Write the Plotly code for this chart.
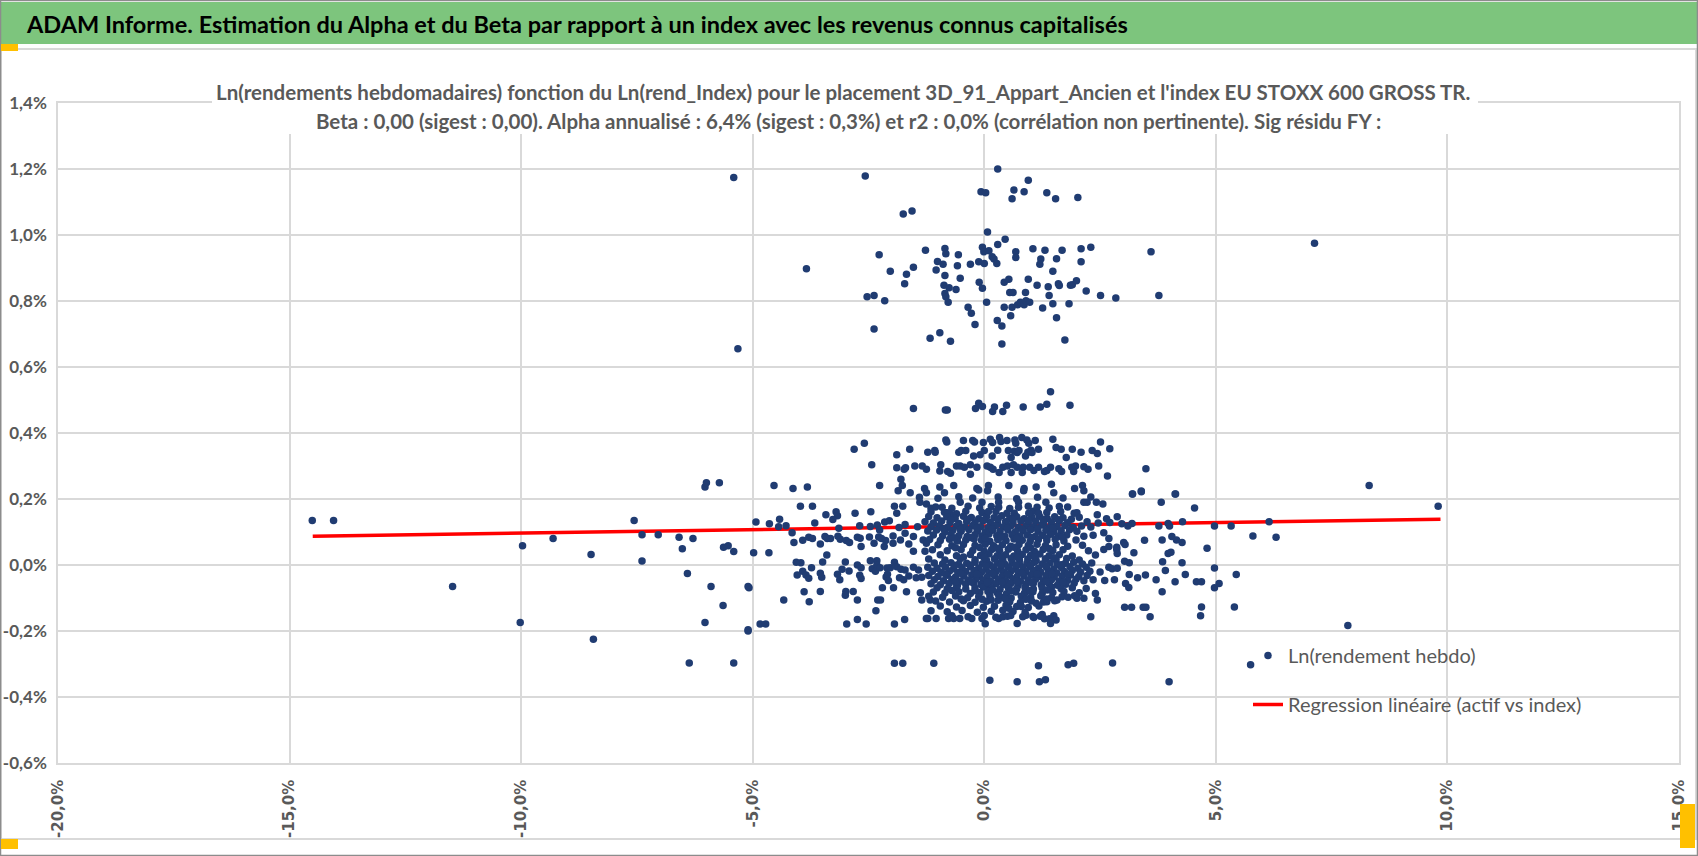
import plotly.graph_objects as go

# ---- figure geometry (pixels) ----
W, H = 1698, 856
ML, MR, MT, MB = 58, 19, 103, 93

# ---- data: Ln(rendement hebdo) of the asset vs Ln(rend_Index), both in % ----
# points above 0.6 %
upper_band = [
    (-2.57, 1.179), (0.29, 1.200), (0.95, 1.166), (-0.07, 1.131), (0.03, 1.128), (0.64, 1.136),
    (0.86, 1.131), (0.60, 1.110), (1.35, 1.128), (1.54, 1.110), (2.02, 1.114), (-1.75, 1.064),
    (-1.56, 1.073), (0.07, 1.009), (0.45, 0.987), (0.29, 0.971), (-1.27, 0.954), (-0.85, 0.959),
    (-0.83, 0.943), (-0.56, 0.940), (-0.04, 0.963), (-0.01, 0.949), (0.10, 0.952), (0.17, 0.934),
    (0.21, 0.927), (0.27, 0.914), (0.00, 0.914), (-0.12, 0.919), (-0.30, 0.911), (-0.58, 0.907),
    (-0.89, 0.911), (-1.01, 0.920), (-1.04, 0.894), (-0.85, 0.877), (-0.52, 0.869), (0.68, 0.949),
    (0.68, 0.932), (1.05, 0.958), (1.31, 0.954), (1.68, 0.954), (2.09, 0.958), (2.30, 0.963),
    (3.60, 0.949), (1.22, 0.927), (1.20, 0.911), (1.56, 0.928), (2.09, 0.919), (1.48, 0.890),
    (-2.27, 0.940), (-3.84, 0.898), (-2.03, 0.890), (-1.53, 0.902), (-1.68, 0.881), (-1.72, 0.852),
    (-2.53, 0.813), (-2.38, 0.817), (-2.15, 0.801), (-2.38, 0.715), (-0.87, 0.848), (-0.76, 0.840),
    (-0.61, 0.835), (-0.85, 0.823), (-0.83, 0.813), (-0.78, 0.796), (-0.11, 0.857), (-0.04, 0.839),
    (0.05, 0.796), (-0.35, 0.781), (-0.28, 0.763), (-0.20, 0.729), (-1.17, 0.687), (-0.96, 0.704),
    (-0.73, 0.678), (0.28, 0.741), (0.38, 0.724), (0.38, 0.670), (0.57, 0.755), (0.43, 0.781),
    (0.60, 0.781), (0.43, 0.857), (0.53, 0.866), (0.55, 0.826), (0.62, 0.826), (0.72, 0.789),
    (0.78, 0.796), (0.86, 0.789), (0.90, 0.801), (0.98, 0.796), (0.89, 0.826), (0.95, 0.866),
    (1.14, 0.848), (1.38, 0.843), (1.40, 0.817), (1.60, 0.852), (1.62, 0.847), (1.86, 0.848),
    (1.90, 0.849), (1.99, 0.861), (2.20, 0.830), (2.51, 0.817), (2.84, 0.809), (3.77, 0.817),
    (1.26, 0.779), (1.48, 0.792), (1.83, 0.792), (1.56, 0.749), (1.74, 0.682),
    (-5.41, 1.174), (-5.32, 0.655), (7.13, 0.975),
]

# points between 0.2 % and 0.55 %
mid_band = [
    (1.43, 0.525), (-1.53, 0.474), (-0.84, 0.470), (-0.80, 0.470), (-0.19, 0.474), (-0.12, 0.490),
    (-0.04, 0.480), (0.18, 0.465), (0.22, 0.479), (0.40, 0.465), (0.48, 0.484), (0.84, 0.479),
    (1.21, 0.479), (1.35, 0.487), (1.85, 0.484),
    (-2.59, 0.369), (-2.81, 0.351), (-1.89, 0.334), (-1.61, 0.351), (-1.22, 0.342), (-1.07, 0.347),
    (-1.06, 0.342), (-0.83, 0.379), (-0.81, 0.373), (-0.45, 0.377), (-0.25, 0.377), (-0.21, 0.373),
    (-0.02, 0.371), (0.13, 0.381), (0.18, 0.371), (0.33, 0.386), (0.36, 0.374), (0.49, 0.377),
    (0.66, 0.379), (0.68, 0.369), (0.81, 0.386), (0.92, 0.379), (0.96, 0.369), (1.10, 0.377),
    (1.48, 0.381), (2.51, 0.373), (-0.55, 0.342), (-0.50, 0.347), (-0.40, 0.347), (-0.23, 0.330),
    (-0.09, 0.334), (0.00, 0.347), (0.17, 0.330), (0.29, 0.348), (0.52, 0.347), (0.58, 0.326),
    (0.65, 0.345), (0.71, 0.341), (0.75, 0.347), (0.89, 0.330), (0.94, 0.342), (1.01, 0.348),
    (1.03, 0.341), (1.17, 0.351), (1.55, 0.356), (1.66, 0.351), (1.90, 0.351), (1.77, 0.326),
    (2.09, 0.342), (2.33, 0.347), (2.44, 0.338), (2.71, 0.352),
    (-2.43, 0.304), (-1.89, 0.295), (-1.73, 0.290), (-1.70, 0.295), (-1.50, 0.300), (-1.34, 0.300),
    (-1.25, 0.290), (-0.94, 0.304), (-0.96, 0.285), (-0.79, 0.283), (-0.73, 0.278), (-0.60, 0.300),
    (-0.52, 0.300), (-0.43, 0.296), (-0.30, 0.304), (-0.30, 0.275), (-0.16, 0.296), (0.06, 0.300),
    (0.13, 0.296), (0.19, 0.290), (0.32, 0.280), (0.40, 0.296), (0.50, 0.300), (0.58, 0.280),
    (0.63, 0.304), (0.71, 0.296), (0.82, 0.280), (0.84, 0.296), (0.98, 0.296), (1.07, 0.286),
    (1.17, 0.296), (1.30, 0.283), (1.35, 0.286), (1.43, 0.296), (1.61, 0.292), (1.67, 0.283),
    (1.89, 0.296), (1.97, 0.300), (1.93, 0.283), (2.15, 0.298), (2.24, 0.290), (2.47, 0.300),
    (2.66, 0.270), (3.49, 0.292),
    (-4.54, 0.241), (-4.13, 0.232), (-3.82, 0.236), (-2.26, 0.241), (-1.80, 0.260), (-1.77, 0.241),
    (-1.86, 0.225), (-1.60, 0.219), (-1.29, 0.232), (-1.25, 0.219), (-0.96, 0.236), (-0.86, 0.219),
    (-0.66, 0.241), (-0.16, 0.232), (-0.12, 0.227), (0.09, 0.241), (0.07, 0.225), (0.53, 0.241),
    (0.86, 0.232), (0.85, 0.225), (1.12, 0.236), (1.45, 0.245), (1.50, 0.219), (1.95, 0.232),
    (2.12, 0.241), (2.15, 0.225), (3.20, 0.215), (3.39, 0.224), (4.13, 0.215),
    (-1.40, 0.205), (-1.00, 0.202), (-0.55, 0.207), (-0.25, 0.203), (0.30, 0.206), (0.70, 0.201),
    (1.15, 0.205), (1.70, 0.203), (2.30, 0.206),
]

# left part of the main cloud (-5 % .. -1.2 %)
left_cloud = [
    (-3.97, 0.178), (-3.71, 0.178), (-3.42, 0.152), (-3.20, 0.161), (-3.17, 0.149), (-3.27, 0.138),
    (-2.79, 0.157), (-2.45, 0.161), (-1.94, 0.178), (-1.76, 0.178), (-1.89, 0.157), (-1.39, 0.190),
    (-1.25, 0.185), (-1.15, 0.172), (-0.91, 0.175), (-0.86, 0.160), (-0.52, 0.190), (-0.71, 0.152),
    (-0.60, 0.155), (-0.05, 0.190),
    (-4.93, 0.130), (-4.64, 0.125), (-4.42, 0.139), (-4.44, 0.116), (-4.28, 0.119), (-4.15, 0.098),
    (-4.11, 0.068), (-3.92, 0.075), (-3.79, 0.084), (-3.71, 0.080), (-3.66, 0.127), (-3.54, 0.064),
    (-3.44, 0.086), (-3.39, 0.080), (-3.32, 0.080), (-3.14, 0.111), (-3.16, 0.087), (-3.11, 0.078),
    (-2.98, 0.074), (-2.91, 0.068), (-2.69, 0.119), (-2.74, 0.084), (-2.68, 0.081), (-2.66, 0.056),
    (-2.46, 0.117), (-2.48, 0.085), (-2.38, 0.066), (-2.31, 0.121), (-2.28, 0.085), (-2.26, 0.106),
    (-2.22, 0.080), (-2.16, 0.056), (-2.15, 0.130), (-2.05, 0.134), (-2.13, 0.074), (-1.97, 0.066),
    (-1.97, 0.088), (-1.84, 0.114), (-1.71, 0.123), (-1.81, 0.076), (-1.71, 0.096), (-1.63, 0.064),
    (-1.53, 0.042), (-1.53, 0.086), (-1.44, 0.116), (-1.32, 0.076), (-1.25, 0.066), (-1.28, 0.042),
    (-4.98, 0.037), (-4.65, 0.037), (-5.08, -0.069), (-4.33, -0.106), (-4.84, -0.179), (-4.72, -0.179),
    (-5.10, -0.200), (-3.96, 0.007), (-4.06, 0.008), (-3.92, -0.019), (-4.04, -0.030), (-3.85, -0.030),
    (-3.79, -0.040), (-3.73, -0.008), (-3.49, 0.009), (-3.40, 0.030), (-3.54, -0.025), (-3.51, -0.037),
    (-3.89, -0.081), (-3.54, -0.080), (-3.78, -0.111), (-3.17, -0.028), (-3.12, -0.045), (-3.07, -0.013),
    (-3.00, 0.009), (-2.92, -0.018), (-2.99, -0.080), (-3.00, -0.092), (-2.83, -0.080), (-2.74, -0.106),
    (-2.74, 0.000), (-2.66, -0.008), (-2.69, -0.031), (-2.66, -0.041), (-2.46, 0.013), (-2.42, -0.011),
    (-2.32, 0.013), (-2.32, -0.001), (-2.35, -0.019), (-2.25, -0.008), (-2.10, -0.009), (-2.03, -0.008),
    (-2.12, -0.036), (-2.07, -0.047), (-2.09, -0.028), (-2.20, -0.069), (-1.96, -0.069), (-2.30, -0.106),
    (-2.24, -0.106), (-2.34, -0.139), (-2.74, -0.165), (-2.97, -0.179), (-2.55, -0.179), (-1.94, -0.179),
    (-1.72, -0.165), (-1.94, -0.298), (-1.76, -0.298), (-1.09, -0.298), (0.12, -0.349),
    (-1.94, 0.008), (-1.89, -0.005), (-1.80, -0.013), (-1.83, -0.039), (-1.71, -0.015), (-1.74, -0.045),
    (-1.63, -0.033), (-1.68, -0.081), (-1.53, -0.007), (-1.42, -0.015), (-1.47, -0.039), (-1.35, -0.037),
    (-1.38, -0.084), (-1.35, -0.106), (-1.17, -0.106), (-1.25, -0.162), (-1.22, -0.162), (-1.04, -0.162),
    (-0.77, -0.162), (-0.66, -0.162), (-0.53, -0.162), (-0.27, -0.162), (-0.05, -0.162), (0.02, -0.178),
]

# dense core of the cloud (-1.3 % .. 2.6 %)
core_cloud = [
    (-1.05, 0.176), (-0.70, 0.172), (-0.35, 0.178), (-0.10, 0.173), (0.15, 0.177), (0.55, 0.171),
    (0.95, 0.178), (1.40, 0.173), (1.80, 0.176),
    (-1.15, 0.161), (-0.80, 0.158), (-0.40, 0.163), (-0.05, 0.159), (0.25, 0.162), (0.65, 0.157),
    (1.05, 0.163), (1.35, 0.159), (1.65, 0.162), (2.00, 0.158),
    (-1.20, 0.147), (-1.02, 0.143), (-0.81, 0.146), (-0.63, 0.141), (-0.45, 0.148), (-0.28, 0.144),
    (-0.12, 0.140), (0.05, 0.147), (0.21, 0.143), (0.38, 0.149), (0.55, 0.142), (0.70, 0.146),
    (0.86, 0.140), (1.03, 0.145), (1.19, 0.148), (1.36, 0.141), (1.52, 0.146), (1.70, 0.143),
    (1.88, 0.139), (2.05, 0.145),
    (-1.28, 0.131), (-1.10, 0.127), (-0.92, 0.133), (-0.74, 0.129), (-0.55, 0.126), (-0.38, 0.132),
    (-0.20, 0.128), (-0.03, 0.134), (0.13, 0.129), (0.29, 0.125), (0.46, 0.131), (0.62, 0.127),
    (0.79, 0.133), (0.95, 0.128), (1.11, 0.132), (1.28, 0.126), (1.45, 0.130), (1.62, 0.134),
    (1.80, 0.128), (2.22, 0.131), (2.46, 0.127),
    (-1.15, 0.116), (-0.97, 0.119), (-0.80, 0.114), (-0.60, 0.118), (-0.42, 0.115), (-0.25, 0.120),
    (-0.08, 0.116), (0.08, 0.113), (0.24, 0.119), (0.41, 0.115), (0.58, 0.120), (0.74, 0.114),
    (0.90, 0.118), (1.07, 0.116), (1.24, 0.121), (1.40, 0.113), (1.57, 0.117), (1.74, 0.120),
    (1.92, 0.114), (2.10, 0.118), (2.30, 0.115),
    (-1.22, 0.103), (-1.03, 0.106), (-0.85, 0.101), (-0.68, 0.105), (-0.50, 0.102), (-0.33, 0.107),
    (-0.15, 0.103), (0.02, 0.100), (0.18, 0.105), (0.34, 0.102), (0.51, 0.106), (0.67, 0.101),
    (0.84, 0.104), (1.00, 0.107), (1.16, 0.102), (1.33, 0.105), (1.50, 0.100), (1.66, 0.104),
    (1.84, 0.107), (2.00, 0.102),
    (-1.10, 0.091), (-0.90, 0.088), (-0.72, 0.093), (-0.55, 0.089), (-0.37, 0.086), (-0.20, 0.092),
    (-0.05, 0.088), (0.10, 0.094), (0.27, 0.089), (0.44, 0.087), (0.60, 0.092), (0.77, 0.088),
    (0.93, 0.091), (1.10, 0.086), (1.26, 0.090), (1.43, 0.093), (1.60, 0.088), (1.78, 0.091),
    (2.15, 0.087), (2.35, 0.090),
    (-1.18, 0.077), (-0.95, 0.074), (-0.75, 0.078), (-0.58, 0.073), (-0.40, 0.076), (-0.22, 0.079),
    (-0.06, 0.075), (0.12, 0.072), (0.29, 0.077), (0.47, 0.074), (0.64, 0.079), (0.82, 0.075),
    (0.99, 0.072), (1.17, 0.077), (1.35, 0.074), (1.53, 0.078), (1.72, 0.073), (1.98, 0.076),
    (-1.00, 0.061), (-0.70, 0.058), (-0.45, 0.062), (-0.20, 0.059), (0.02, 0.063), (0.20, 0.058),
    (0.39, 0.061), (0.57, 0.057), (0.75, 0.062), (0.95, 0.059), (1.14, 0.063), (1.32, 0.058),
    (1.55, 0.061), (1.80, 0.057), (2.12, 0.060),
    (-1.12, 0.046), (-0.80, 0.043), (-0.50, 0.047), (-0.25, 0.044), (0.00, 0.042), (0.16, 0.047),
    (0.33, 0.044), (0.52, 0.048), (0.72, 0.043), (0.90, 0.046), (1.08, 0.042), (1.27, 0.047),
    (1.48, 0.044), (1.70, 0.046), (2.25, 0.043),
    (-0.95, 0.031), (-0.60, 0.028), (-0.30, 0.032), (-0.08, 0.029), (0.10, 0.033), (0.28, 0.028),
    (0.46, 0.031), (0.64, 0.027), (0.82, 0.032), (1.00, 0.029), (1.20, 0.033), (1.40, 0.028),
    (1.62, 0.031), (1.90, 0.027), (2.40, 0.030),
    (-1.20, 0.018), (-0.85, 0.015), (-0.52, 0.019), (-0.20, 0.016), (0.05, 0.014), (0.22, 0.019),
    (0.40, 0.016), (0.58, 0.020), (0.76, 0.015), (0.94, 0.018), (1.12, 0.014), (1.32, 0.019),
    (1.55, 0.016), (1.78, 0.020), (2.05, 0.015),
    (-1.08, 0.006), (-0.90, 0.003), (-0.72, 0.007), (-0.55, 0.002), (-0.38, 0.005), (-0.20, 0.008),
    (-0.04, 0.004), (0.12, 0.001), (0.28, 0.006), (0.44, 0.003), (0.60, 0.007), (0.76, 0.002),
    (0.92, 0.005), (1.08, 0.008), (1.25, 0.003), (1.42, 0.006), (1.58, 0.001), (1.75, 0.005),
    (1.93, 0.008), (2.12, 0.003), (2.32, 0.006),
    (-1.22, -0.007), (-1.02, -0.010), (-0.84, -0.006), (-0.66, -0.011), (-0.48, -0.008), (-0.30, -0.005),
    (-0.12, -0.009), (0.04, -0.012), (0.20, -0.007), (0.36, -0.010), (0.52, -0.006), (0.68, -0.011),
    (0.84, -0.008), (1.00, -0.005), (1.17, -0.010), (1.34, -0.007), (1.50, -0.012), (1.67, -0.008),
    (1.85, -0.005), (2.02, -0.010), (2.20, -0.007),
    (-1.12, -0.019), (-0.93, -0.022), (-0.75, -0.018), (-0.57, -0.023), (-0.40, -0.020), (-0.22, -0.017),
    (-0.06, -0.021), (0.10, -0.024), (0.26, -0.019), (0.42, -0.022), (0.58, -0.018), (0.74, -0.023),
    (0.90, -0.020), (1.06, -0.017), (1.22, -0.022), (1.39, -0.019), (1.56, -0.024), (1.73, -0.020),
    (1.90, -0.017), (2.08, -0.022), (2.28, -0.019), (2.50, -0.021),
    (-1.20, -0.032), (-1.00, -0.035), (-0.80, -0.031), (-0.62, -0.036), (-0.44, -0.033), (-0.27, -0.030),
    (-0.10, -0.034), (0.06, -0.037), (0.22, -0.032), (0.38, -0.035), (0.54, -0.031), (0.70, -0.036),
    (0.86, -0.033), (1.02, -0.030), (1.18, -0.035), (1.34, -0.032), (1.51, -0.036), (1.68, -0.033),
    (1.86, -0.030), (2.04, -0.035), (2.22, -0.032),
    (-1.08, -0.045), (-0.88, -0.048), (-0.70, -0.044), (-0.52, -0.049), (-0.35, -0.046), (-0.18, -0.043),
    (-0.02, -0.047), (0.14, -0.050), (0.30, -0.045), (0.46, -0.048), (0.62, -0.044), (0.78, -0.049),
    (0.95, -0.046), (1.11, -0.043), (1.28, -0.048), (1.45, -0.045), (1.62, -0.049), (1.80, -0.046),
    (1.98, -0.043), (2.15, -0.048), (2.35, -0.045), (2.60, -0.047),
    (-1.15, -0.057), (-0.95, -0.060), (-0.76, -0.056), (-0.58, -0.061), (-0.40, -0.058), (-0.23, -0.055),
    (-0.07, -0.059), (0.09, -0.062), (0.25, -0.057), (0.41, -0.060), (0.57, -0.056), (0.73, -0.061),
    (0.90, -0.058), (1.06, -0.055), (1.23, -0.060), (1.40, -0.057), (1.58, -0.061), (1.76, -0.058),
    (1.94, -0.055),
    (-1.02, -0.069), (-0.80, -0.072), (-0.60, -0.068), (-0.40, -0.073), (-0.20, -0.070), (-0.02, -0.067),
    (0.16, -0.071), (0.34, -0.074), (0.52, -0.069), (0.70, -0.072), (0.88, -0.068), (1.06, -0.073),
    (1.25, -0.070), (1.45, -0.067), (1.66, -0.072), (1.90, -0.069), (2.20, -0.071),
    (-1.10, -0.082), (-0.85, -0.085), (-0.55, -0.081), (-0.30, -0.086), (-0.10, -0.083), (0.08, -0.080),
    (0.28, -0.084), (0.48, -0.087), (0.68, -0.082), (0.87, -0.085), (1.05, -0.081), (1.25, -0.086),
    (1.48, -0.083), (1.72, -0.080), (2.05, -0.084),
    (-1.20, -0.095), (-0.90, -0.098), (-0.62, -0.094), (-0.36, -0.099), (-0.12, -0.096), (0.12, -0.093),
    (0.35, -0.097), (0.58, -0.100), (0.80, -0.095), (1.00, -0.098), (1.22, -0.094), (1.45, -0.099),
    (1.68, -0.096), (1.95, -0.093),
    (-1.05, -0.109), (-0.75, -0.112), (-0.45, -0.108), (-0.20, -0.113), (0.05, -0.110), (0.30, -0.107),
    (0.55, -0.111), (0.78, -0.114), (1.02, -0.109), (1.28, -0.112), (1.52, -0.108),
    (-0.95, -0.124), (-0.60, -0.127), (-0.30, -0.123), (-0.02, -0.128), (0.22, -0.125), (0.47, -0.122),
    (0.70, -0.126), (0.95, -0.129), (1.18, -0.124),
    (-1.15, -0.139), (-0.80, -0.142), (-0.48, -0.138), (-0.15, -0.143), (0.15, -0.140), (0.40, -0.137),
    (0.62, -0.141), (0.88, -0.144),
    (-0.70, -0.154), (-0.35, -0.157), (0.00, -0.153), (0.25, -0.158), (0.50, -0.155), (0.90, -0.152),
    (1.05, -0.156), (1.25, -0.150), (1.50, -0.154),
    (0.31, 0.190), (0.31, 0.175), (0.74, 0.190), (0.74, 0.175), (1.14, 0.175), (1.33, 0.190),
    (1.62, 0.177), (1.17, 0.157), (0.96, 0.157), (0.49, 0.157), (0.09, 0.162),
    (0.31, -0.162), (0.40, -0.157), (0.57, -0.153), (0.83, -0.157), (0.71, -0.177), (1.07, -0.159),
    (1.21, -0.155), (1.30, -0.163), (1.41, -0.163), (1.55, -0.167), (1.43, -0.177),
    (0.53, -0.131), (0.80, -0.126), (1.12, -0.116), (1.35, -0.111), (1.57, -0.106), (1.81, -0.098),
    (2.00, -0.101), (2.15, -0.101), (0.15, -0.106), (0.31, -0.091),
]

# the darkest centre of the cloud (-0.9 % .. 1.8 %)
centre_cloud = [
    (-0.72, 0.137), (-0.36, 0.139), (0.00, 0.136), (0.30, 0.140), (0.62, 0.138), (0.95, 0.135),
    (1.27, 0.139), (1.60, 0.137),
    (-0.88, 0.110), (-0.52, 0.108), (-0.16, 0.111), (0.16, 0.109), (0.50, 0.112), (0.82, 0.108),
    (1.15, 0.110), (1.48, 0.111),
    (-0.65, 0.082), (-0.30, 0.083), (0.02, 0.081), (0.36, 0.084), (0.70, 0.080), (1.02, 0.083),
    (1.35, 0.081), (1.68, 0.084),
    (-0.62, 0.052), (-0.10, 0.053), (0.28, 0.051), (0.64, 0.054), (1.00, 0.052), (1.40, 0.050),
    (-0.45, 0.024), (0.00, 0.022), (0.36, 0.025), (0.72, 0.023), (1.10, 0.025), (1.50, 0.022),
    (-0.64, -0.001), (-0.30, 0.000), (0.04, -0.002), (0.36, 0.001), (0.68, -0.001), (1.00, 0.000),
    (1.33, -0.002), (1.66, 0.001),
    (-0.84, -0.027), (-0.50, -0.026), (-0.16, -0.028), (0.18, -0.026), (0.50, -0.027), (0.82, -0.025),
    (1.14, -0.028), (1.46, -0.026), (1.80, -0.027),
    (-0.62, -0.052), (-0.28, -0.051), (0.06, -0.053), (0.38, -0.052), (0.70, -0.050), (1.02, -0.053),
    (1.34, -0.051), (1.70, -0.052),
    (-0.70, -0.077), (-0.20, -0.078), (0.18, -0.076), (0.58, -0.078), (0.98, -0.077), (1.36, -0.076),
    (-0.50, -0.103), (-0.05, -0.104), (0.45, -0.102), (0.90, -0.104), (1.35, -0.103),
]

# right part of the cloud (> 2 %) and the low points around -0.3 %
right_cloud = [
    (3.20, 0.215), (3.39, 0.222), (4.12, 0.215), (2.15, 0.190), (2.22, 0.190), (2.42, 0.190),
    (2.56, 0.185), (3.82, 0.190), (1.94, 0.157), (2.44, 0.152), (2.64, 0.140), (2.87, 0.146),
    (2.71, 0.129), (2.97, 0.125), (3.19, 0.126), (3.10, 0.118), (3.77, 0.118), (3.97, 0.126),
    (4.00, 0.118), (2.58, 0.098), (2.69, 0.080), (3.46, 0.075), (3.84, 0.076), (4.05, 0.086),
    (4.15, 0.076), (3.01, 0.068), (3.04, 0.062), (3.23, 0.037), (2.58, 0.047), (2.69, 0.056),
    (2.86, 0.047), (2.87, 0.035), (2.86, 0.054), (3.97, 0.035), (4.03, 0.039), (3.85, 0.010),
    (3.03, 0.011), (3.13, 0.007), (2.69, -0.007), (2.76, -0.011), (2.87, -0.010), (3.91, -0.017),
    (3.13, -0.029), (3.31, -0.039), (3.48, -0.030), (3.71, -0.045), (4.12, -0.051), (2.81, -0.045),
    (3.05, -0.056), (3.12, -0.068), (3.84, -0.081), (3.03, -0.128), (3.18, -0.128), (3.43, -0.128),
    (3.49, -0.128), (3.58, -0.157), (2.30, -0.157), (2.40, -0.086), (2.44, -0.106),
    (1.17, -0.305), (1.81, -0.302), (1.93, -0.298), (2.77, -0.297), (0.71, -0.354), (1.19, -0.354),
    (1.32, -0.348), (3.99, -0.354),
    (8.31, 0.241), (9.80, 0.178), (4.54, 0.173), (4.28, 0.131), (4.97, 0.118), (5.33, 0.118),
    (6.15, 0.131), (5.80, 0.088), (6.30, 0.084), (4.27, 0.068), (4.81, 0.051), (4.27, 0.007),
    (4.97, -0.009), (4.34, -0.029), (5.44, -0.029), (4.58, -0.051), (4.69, -0.051), (5.07, -0.056),
    (4.97, -0.069), (4.69, -0.127), (4.67, -0.154), (5.40, -0.127), (7.85, -0.183), (5.75, -0.302),
]

# isolated points far on the left (-15 % .. -5 %)
left_outliers = [
    (-14.51, 0.135), (-14.05, 0.135), (-11.48, -0.065), (-9.97, 0.058), (-10.02, -0.174),
    (-9.31, 0.080), (-8.49, 0.032), (-8.44, -0.225), (-7.56, 0.135), (-7.39, 0.092), (-7.04, 0.092),
    (-7.39, 0.012), (-6.59, 0.084), (-6.52, 0.049), (-6.29, 0.080), (-6.41, -0.026), (-5.90, -0.065),
    (-5.64, -0.123), (-6.03, -0.174), (-6.37, -0.297), (-5.41, -0.297), (-6.03, 0.236),
    (-6.00, 0.249), (-5.72, 0.249), (-5.63, 0.054), (-5.53, 0.058), (-5.41, 0.041), (-5.10, -0.065),
    (-5.10, -0.196),
]

# regression line end points (actif vs index)
reg_x = [-14.5, 9.85]
reg_y = [0.087, 0.139]

x_tick_vals = [-20, -15, -10, -5, 0, 5, 10, 15]
x_tick_text = ["-20,0%", "-15,0%", "-10,0%", "-5,0%", "0,0%", "5,0%", "10,0%", "15,0%"]
y_tick_vals = [-0.6, -0.4, -0.2, 0.0, 0.2, 0.4, 0.6, 0.8, 1.0, 1.2, 1.4]
y_tick_text = ["-0,6%", "-0,4%", "-0,2%", "0,0%", "0,2%", "0,4%", "0,6%", "0,8%", "1,0%", "1,2%", "1,4%"]

banner_title = ("ADAM Informe. Estimation du Alpha et du Beta par rapport à un index "
                "avec les revenus connus capitalisés")
chart_title_1 = ("Ln(rendements hebdomadaires) fonction du Ln(rend_Index) pour le placement "
                 "3D_91_Appart_Ancien et l'index EU STOXX 600 GROSS TR.")
chart_title_2 = ("Beta : 0,00 (sigest : 0,00). Alpha annualisé : 6,4% (sigest : 0,3%) et r2 : 0,0% "
                 "(corrélation non pertinente). Sig résidu FY :")

points = upper_band + mid_band + left_cloud + core_cloud + centre_cloud + right_cloud + left_outliers
pts_x = [p[0] for p in points]
pts_y = [p[1] for p in points]

FONT = "Lato, 'Open Sans', sans-serif"
GREY = "#595959"
GRID = "#d9d9d9"


def px(X):
    return (X - ML) / (W - ML - MR)


def py(Y):
    return (H - MB - Y) / (H - MT - MB)


fig = go.Figure()

fig.add_trace(go.Scatter(
    x=reg_x, y=reg_y, mode="lines", name="Regression linéaire (actif vs index)",
    line=dict(color="#ff0000", width=3.5), legendgroup="b", legendrank=2,
    hoverinfo="skip",
))
fig.add_trace(go.Scatter(
    x=pts_x, y=pts_y, mode="markers", name="Ln(rendement hebdo)",
    marker=dict(color="#203c72", size=7.5, line=dict(width=0)),
    legendgroup="a", legendrank=1,
))

shapes = [
    # green banner + grey rule below it
    dict(type="rect", xref="paper", yref="paper", x0=px(1), x1=px(W - 1), y0=py(2), y1=py(44),
         fillcolor="#7dc57d", line=dict(width=0), layer="below"),
    dict(type="line", xref="paper", yref="paper", x0=px(18), x1=px(W - 1), y0=py(49), y1=py(49),
         line=dict(color=GRID, width=2)),
    # chart frame
    dict(type="rect", xref="paper", yref="paper", x0=px(1), x1=px(W - 2), y0=py(49), y1=py(839),
         line=dict(color=GRID, width=2), layer="below"),
    # outer border
    dict(type="rect", xref="paper", yref="paper", x0=px(0.5), x1=px(W - 0.5), y0=py(0.5), y1=py(H - 0.5),
         line=dict(color="#8c8c8c", width=1.5), layer="above"),
    # yellow handles
    dict(type="rect", xref="paper", yref="paper", x0=px(1), x1=px(18), y0=py(44), y1=py(51),
         fillcolor="#ffc000", line=dict(width=0)),
    dict(type="rect", xref="paper", yref="paper", x0=px(1), x1=px(18), y0=py(839), y1=py(849),
         fillcolor="#ffc000", line=dict(width=0)),
    dict(type="rect", xref="paper", yref="paper", x0=px(1680), x1=px(1695), y0=py(804), y1=py(848),
         fillcolor="#ffc000", line=dict(width=0)),
    # white box behind the chart title (hides the top grid line)
    dict(type="rect", xref="paper", yref="paper", x0=px(212), x1=px(1478), y0=py(78), y1=py(134),
         fillcolor="white", line=dict(width=0), layer="above"),
]

annotations = [
    dict(text=banner_title, xref="paper", yref="paper", x=px(24), y=py(24), xanchor="left",
         yanchor="middle", showarrow=False, font=dict(family=FONT, size=23.5, color="black", weight="bold")),
    dict(text=chart_title_1, xref="paper", yref="paper", x=px(843), y=py(92), xanchor="center",
         yanchor="middle", showarrow=False, font=dict(family=FONT, size=20.5, color=GREY, weight="bold")),
    dict(text=chart_title_2, xref="paper", yref="paper", x=px(848), y=py(121), xanchor="center",
         yanchor="middle", showarrow=False, font=dict(family=FONT, size=20.5, color=GREY, weight="bold")),
]

fig.update_layout(
    width=W, height=H,
    margin=dict(l=ML, r=MR, t=MT, b=MB, autoexpand=False),
    paper_bgcolor="white", plot_bgcolor="white",
    shapes=shapes, annotations=annotations,
    showlegend=True,
    legend=dict(x=px(1248), y=py(636), xanchor="left", yanchor="top", bgcolor="rgba(0,0,0,0)",
                font=dict(family=FONT, size=20, color=GREY), traceorder="grouped", tracegroupgap=20),
)
fig.update_xaxes(
    range=[-20, 15], tickvals=x_tick_vals, ticktext=x_tick_text, tickangle=-90, automargin=False,
    showgrid=True, gridcolor=GRID, gridwidth=1.5, zeroline=False,
    showline=True, linecolor=GRID, linewidth=1.5, mirror=True, ticks="", ticklabelstandoff=9,
    tickfont=dict(family="DejaVu Sans", size=15, color=GREY, weight="bold"),
)
fig.update_yaxes(
    range=[-0.6, 1.4], tickvals=y_tick_vals, ticktext=y_tick_text, automargin=False,
    showgrid=True, gridcolor=GRID, gridwidth=1.5, zeroline=False,
    showline=True, linecolor=GRID, linewidth=1.5, mirror=True, ticks="", ticklabelstandoff=6,
    tickfont=dict(family=FONT, size=17, color=GREY, weight="bold"),
)

# the page body keeps its default 8px margin otherwise
fig.write_html("out.html", config={"displayModeBar": False},
               post_script="document.body.style.margin='0';")
